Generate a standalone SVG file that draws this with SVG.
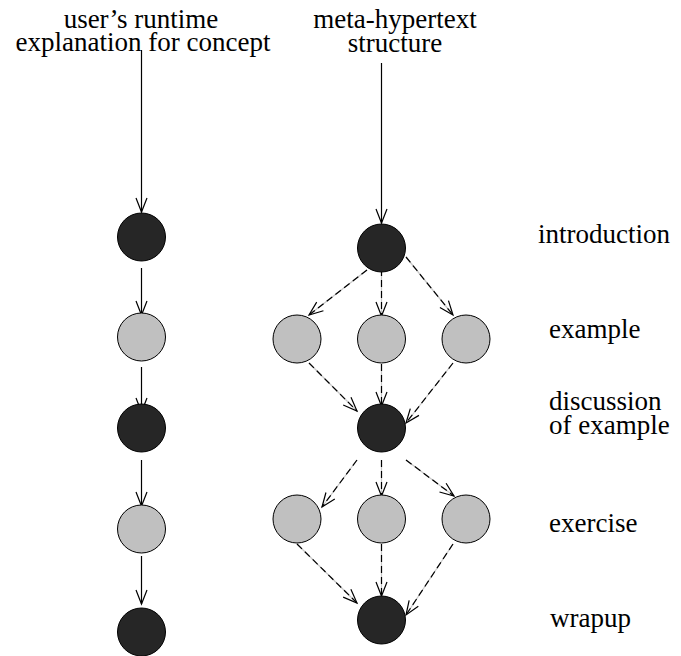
<svg xmlns="http://www.w3.org/2000/svg" width="681" height="656" viewBox="0 0 681 656">
<style>
.dark{fill:#262626;stroke:#000;stroke-width:1}
.light{fill:#c0c0c0;stroke:#000;stroke-width:1}
.solid{stroke:#000;stroke-width:1.2;fill:none}
.under{stroke:#c8c8c8;stroke-width:1.2;fill:none}
.dash{stroke:#000;stroke-width:1.2;fill:none;stroke-dasharray:7 4}
</style>
<defs>
<marker id="ah" markerUnits="userSpaceOnUse" markerWidth="20" markerHeight="14" refX="0" refY="0" viewBox="-16 -7 18 14" orient="auto" overflow="visible">
<path d="M-14,-5.5 L0,0 L-14,5.5" fill="none" stroke="#000" stroke-width="1.2"/>
</marker>
</defs>
<g id="headers" font-family="Liberation Serif" font-size="27" fill="#000">
<text x="141" y="28" text-anchor="middle">user’s runtime</text>
<text x="143" y="51" text-anchor="middle">explanation for concept</text>
<text x="395" y="28" text-anchor="middle">meta-hypertext</text>
<text x="395" y="52" text-anchor="middle">structure</text>
</g>
<g id="labels" font-family="Liberation Serif" font-size="27" fill="#000">
<text x="538" y="243">introduction</text>
<text x="549" y="338">example</text>
<text x="549" y="410">discussion</text>
<text x="549" y="434">of example</text>
<text x="549" y="532">exercise</text>
<text x="550" y="627">wrapup</text>
</g>
<g id="connectors">
<line class="solid" x1="141.5" y1="50" x2="141.5" y2="212" marker-end="url(#ah)"/>
<line class="solid" x1="141.5" y1="268" x2="141.5" y2="315" marker-end="url(#ah)"/>
<line class="solid" x1="141.5" y1="367" x2="141.5" y2="412" marker-end="url(#ah)"/>
<line class="solid" x1="141.5" y1="460" x2="141.5" y2="506" marker-end="url(#ah)"/>
<line class="solid" x1="141.5" y1="556" x2="141.5" y2="604" marker-end="url(#ah)"/>
<line class="solid" x1="381.5" y1="63" x2="381.5" y2="223" marker-end="url(#ah)"/>
<g id="dashed">
<line class="under" x1="367" y1="270" x2="309" y2="315"/>
<line class="dash" x1="367" y1="270" x2="309" y2="315" marker-end="url(#ah)"/>
<line class="under" x1="381.5" y1="269" x2="381.5" y2="316"/>
<line class="dash" x1="381.5" y1="269" x2="381.5" y2="316" marker-end="url(#ah)"/>
<line class="under" x1="406" y1="257" x2="453" y2="315"/>
<line class="dash" x1="406" y1="257" x2="453" y2="315" marker-end="url(#ah)"/>
<line class="under" x1="309" y1="363" x2="357" y2="411"/>
<line class="dash" x1="309" y1="363" x2="357" y2="411" marker-end="url(#ah)"/>
<line class="under" x1="381.5" y1="364" x2="381.5" y2="406"/>
<line class="dash" x1="381.5" y1="364" x2="381.5" y2="406" marker-end="url(#ah)"/>
<line class="under" x1="453" y1="363" x2="406" y2="423"/>
<line class="dash" x1="453" y1="363" x2="406" y2="423" marker-end="url(#ah)"/>
<line class="under" x1="357" y1="460" x2="322" y2="507"/>
<line class="dash" x1="357" y1="460" x2="322" y2="507" marker-end="url(#ah)"/>
<line class="under" x1="381.5" y1="460" x2="381.5" y2="496"/>
<line class="dash" x1="381.5" y1="460" x2="381.5" y2="496" marker-end="url(#ah)"/>
<line class="under" x1="406" y1="460" x2="454" y2="496"/>
<line class="dash" x1="406" y1="460" x2="454" y2="496" marker-end="url(#ah)"/>
<line class="under" x1="297" y1="544" x2="357" y2="603"/>
<line class="dash" x1="297" y1="544" x2="357" y2="603" marker-end="url(#ah)"/>
<line class="under" x1="381.5" y1="544" x2="381.5" y2="596"/>
<line class="dash" x1="381.5" y1="544" x2="381.5" y2="596" marker-end="url(#ah)"/>
<line class="under" x1="453" y1="544" x2="406" y2="615"/>
<line class="dash" x1="453" y1="544" x2="406" y2="615" marker-end="url(#ah)"/>
</g>
</g>
<g id="left-1"><circle class="dark" cx="141.5" cy="237" r="24"/></g>
<g id="left-2"><circle class="light" cx="141.5" cy="337" r="24"/></g>
<g id="left-3"><circle class="dark" cx="141.5" cy="428" r="24"/></g>
<g id="left-4"><circle class="light" cx="141.5" cy="529" r="24"/></g>
<g id="left-5"><circle class="dark" cx="141.5" cy="632" r="24"/></g>
<g id="introduction"><circle class="dark" cx="381.5" cy="248" r="24"/></g>
<g id="example-1"><circle class="light" cx="297" cy="339" r="24"/></g>
<g id="example-2"><circle class="light" cx="381.5" cy="339" r="24"/></g>
<g id="example-3"><circle class="light" cx="466" cy="339" r="24"/></g>
<g id="discussion"><circle class="dark" cx="381.5" cy="428" r="24"/></g>
<g id="exercise-1"><circle class="light" cx="297" cy="519" r="24"/></g>
<g id="exercise-2"><circle class="light" cx="381.5" cy="519" r="24"/></g>
<g id="exercise-3"><circle class="light" cx="466" cy="519" r="24"/></g>
<g id="wrapup"><circle class="dark" cx="381.5" cy="620" r="24"/></g>
</svg>
